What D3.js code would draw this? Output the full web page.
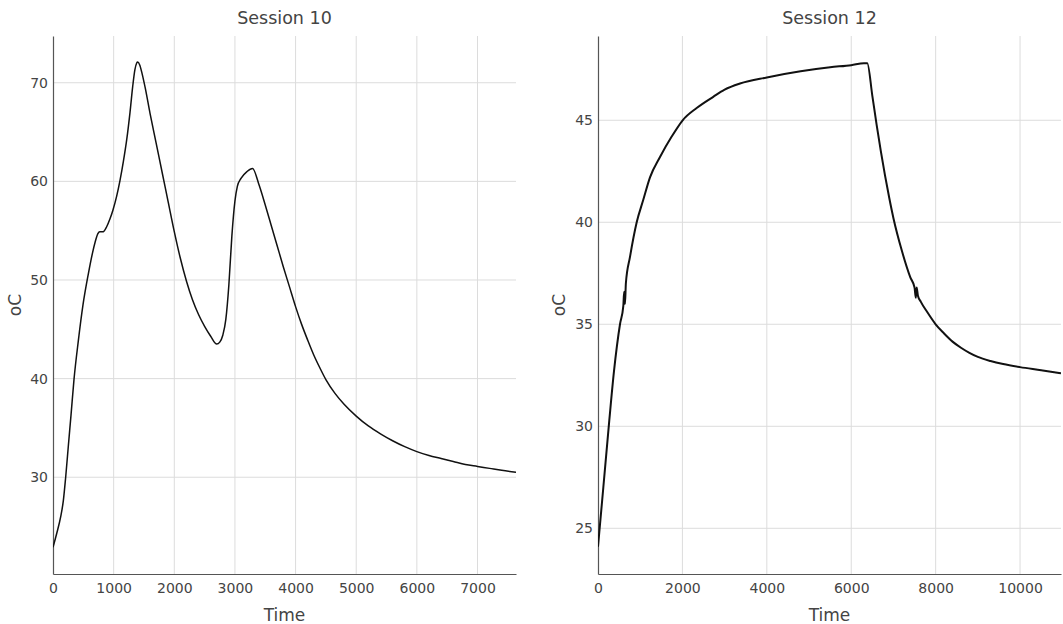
<!DOCTYPE html>
<html>
<head>
<meta charset="utf-8">
<script src="https://cdn.jsdelivr.net/npm/d3@7"></script>
<style>
  html, body { margin: 0; padding: 0; background: #fff; }
  svg { display: block; font-family: "DejaVu Sans", Verdana, sans-serif; }
</style>
</head>
<body>
<script>
// ---- Data ----
const titles = ["Session 10", "Session 12"];

const s10Time = [0, 61, 127, 170, 209, 256, 297, 346, 417, 495, 582, 650, 693, 740, 770, 829, 885, 940, 989,
  1050, 1105, 1160, 1215, 1270, 1314, 1350, 1380, 1395, 1430, 1470, 1520, 1600, 1700, 1800, 1900, 2000,
  2100, 2200, 2300, 2400, 2500, 2600, 2700, 2750, 2800, 2850, 2900, 2950, 3000, 3040, 3100, 3200, 3290,
  3400, 3500, 3600, 3700, 3800, 3900, 4000, 4100, 4200, 4300, 4400, 4500, 4650, 4800, 5000, 5200,
  5400, 5600, 5800, 6000, 6200, 6400, 6600, 6800, 7000, 7200, 7400, 7635];
const s10Temp = [22.9, 24.3, 26.0, 27.6, 30.0, 33.4, 36.3, 39.9, 43.8, 47.5, 50.6, 52.7, 53.8, 54.7, 54.9, 54.9,
  55.4, 56.2, 57.1, 58.5, 60.1, 62.0, 64.2, 67.0, 69.6, 71.3, 72.0, 72.1, 71.8, 70.9, 69.5, 66.9, 63.9, 60.9, 57.9, 54.9,
  52.2, 49.9, 48.0, 46.5, 45.3, 44.3, 43.5, 43.7, 44.4, 46.0, 49.5, 54.5, 58.0, 59.5, 60.3, 61.0, 61.3,
  59.6, 57.6, 55.5, 53.4, 51.3, 49.3, 47.3, 45.5, 43.9, 42.4, 41.1, 39.9, 38.5, 37.4, 36.2, 35.2,
  34.4, 33.7, 33.1, 32.6, 32.2, 31.9, 31.6, 31.3, 31.1, 30.9, 30.7, 30.5];

const s12Time = [0, 126, 268, 379, 521, 600, 620, 640, 660, 758, 917, 1073, 1232, 1469, 1746, 2006, 2338, 2731, 3000,
  3364, 4000, 4800, 5500, 6000, 6300, 6380, 6500, 6600, 6700, 6800, 6900, 7000, 7200, 7400, 7500, 7530, 7550, 7580,
  7650, 7800, 8000, 8200, 8400, 8600, 8800, 9000, 9300, 9600, 10000, 10500, 10970];
const s12Temp = [24.1, 27.0, 30.3, 32.7, 35.0, 35.9, 36.6, 36.0, 37.0, 38.3, 40.0, 41.1, 42.2, 43.2, 44.2, 45.0, 45.6,
  46.15, 46.5, 46.8, 47.1, 47.4, 47.6, 47.7, 47.8, 47.8, 46.2, 44.8, 43.5, 42.3, 41.2, 40.2, 38.6, 37.3, 36.8, 36.3,
  36.8, 36.4, 36.1, 35.6, 35.0, 34.55, 34.15, 33.85, 33.6, 33.4, 33.2, 33.05, 32.9, 32.75, 32.6];

const xTicks10 = [0, 1000, 2000, 3000, 4000, 5000, 6000, 7000];
const yTicks10 = [30, 40, 50, 60, 70];
const xTicks12 = [0, 2000, 4000, 6000, 8000, 10000];
const yTicks12 = [25, 30, 35, 40, 45];

const xDomain10 = [0, 7635];
const yDomain10 = [20.19, 74.74];
const xDomain12 = [0, 10970];
const yDomain12 = [22.76, 49.13];

const xLabel = "Time";
const yLabel = "oC";

// ---- Layout ----
const W = 1063, H = 624;
const plotTop = 36, plotBottom = 574;
const panels = [
  { left: 53, right: 516, title: titles[0], t: s10Time, v: s10Temp, xd: xDomain10, yd: yDomain10, xt: xTicks10, yt: yTicks10, sw: 1.5 },
  { left: 598, right: 1061, title: titles[1], t: s12Time, v: s12Temp, xd: xDomain12, yd: yDomain12, xt: xTicks12, yt: yTicks12, sw: 2 }
];

const svg = d3.select("body").append("svg").attr("width", W).attr("height", H);

panels.forEach((p, i) => {
  const x = d3.scaleLinear().domain(p.xd).range([p.left, p.right]);
  const y = d3.scaleLinear().domain(p.yd).range([plotBottom, plotTop]);
  const g = svg.append("g");

  // grid
  g.append("g").selectAll("line").data(p.xt.filter(d => d > 0)).join("line")
    .attr("x1", d => x(d)).attr("x2", d => x(d)).attr("y1", plotTop).attr("y2", plotBottom)
    .attr("stroke", "#dcdcdc").attr("stroke-width", 1);
  g.append("g").selectAll("line").data(p.yt).join("line")
    .attr("x1", p.left).attr("x2", p.right).attr("y1", d => y(d)).attr("y2", d => y(d))
    .attr("stroke", "#dcdcdc").attr("stroke-width", 1);

  // axes
  const xAxis = d3.axisBottom(x).tickValues(p.xt).tickSize(0).tickPadding(9).tickFormat(d3.format("d"));
  const gx = g.append("g").attr("transform", `translate(0,${plotBottom})`).call(xAxis);
  gx.select(".domain").attr("stroke", "#555").attr("stroke-width", 1.2);
  gx.selectAll("text").attr("font-size", 14).attr("fill", "#444").attr("font-family", "DejaVu Sans");

  const yAxis = d3.axisLeft(y).tickValues(p.yt).tickSize(0).tickPadding(5).tickFormat(d3.format("d"));
  const gy = g.append("g").attr("transform", `translate(${p.left},0)`).call(yAxis);
  gy.select(".domain").attr("stroke", "#555").attr("stroke-width", 1.2);
  gy.selectAll("text").attr("font-size", 14).attr("fill", "#444").attr("font-family", "DejaVu Sans");

  // line
  const clipId = "clip" + i;
  svg.append("clipPath").attr("id", clipId).append("rect")
    .attr("x", p.left).attr("y", plotTop).attr("width", p.right - p.left).attr("height", plotBottom - plotTop);
  const pts = p.t.map((t, k) => [t, p.v[k]]);
  const line = d3.line().x(d => x(d[0])).y(d => y(d[1])).curve(d3.curveMonotoneX);
  g.append("path").attr("d", line(pts)).attr("fill", "none").attr("stroke", "#111")
    .attr("stroke-width", p.sw).attr("stroke-linejoin", "round").attr("clip-path", `url(#${clipId})`);

  // titles
  g.append("text").attr("x", (p.left + p.right) / 2).attr("y", 23.5).attr("text-anchor", "middle")
    .attr("font-size", 17.5).attr("fill", "#444").text(p.title);
  g.append("text").attr("x", (p.left + p.right) / 2).attr("y", 621).attr("text-anchor", "middle")
    .attr("font-size", 17).attr("fill", "#444").text(xLabel);
  const yx = i === 0 ? 21 : 565;
  g.append("text").attr("transform", `translate(${yx},${(plotTop + plotBottom) / 2}) rotate(-90)`)
    .attr("text-anchor", "middle").attr("font-size", 17).attr("fill", "#444").text(yLabel);
});
</script>
</body>
</html>
